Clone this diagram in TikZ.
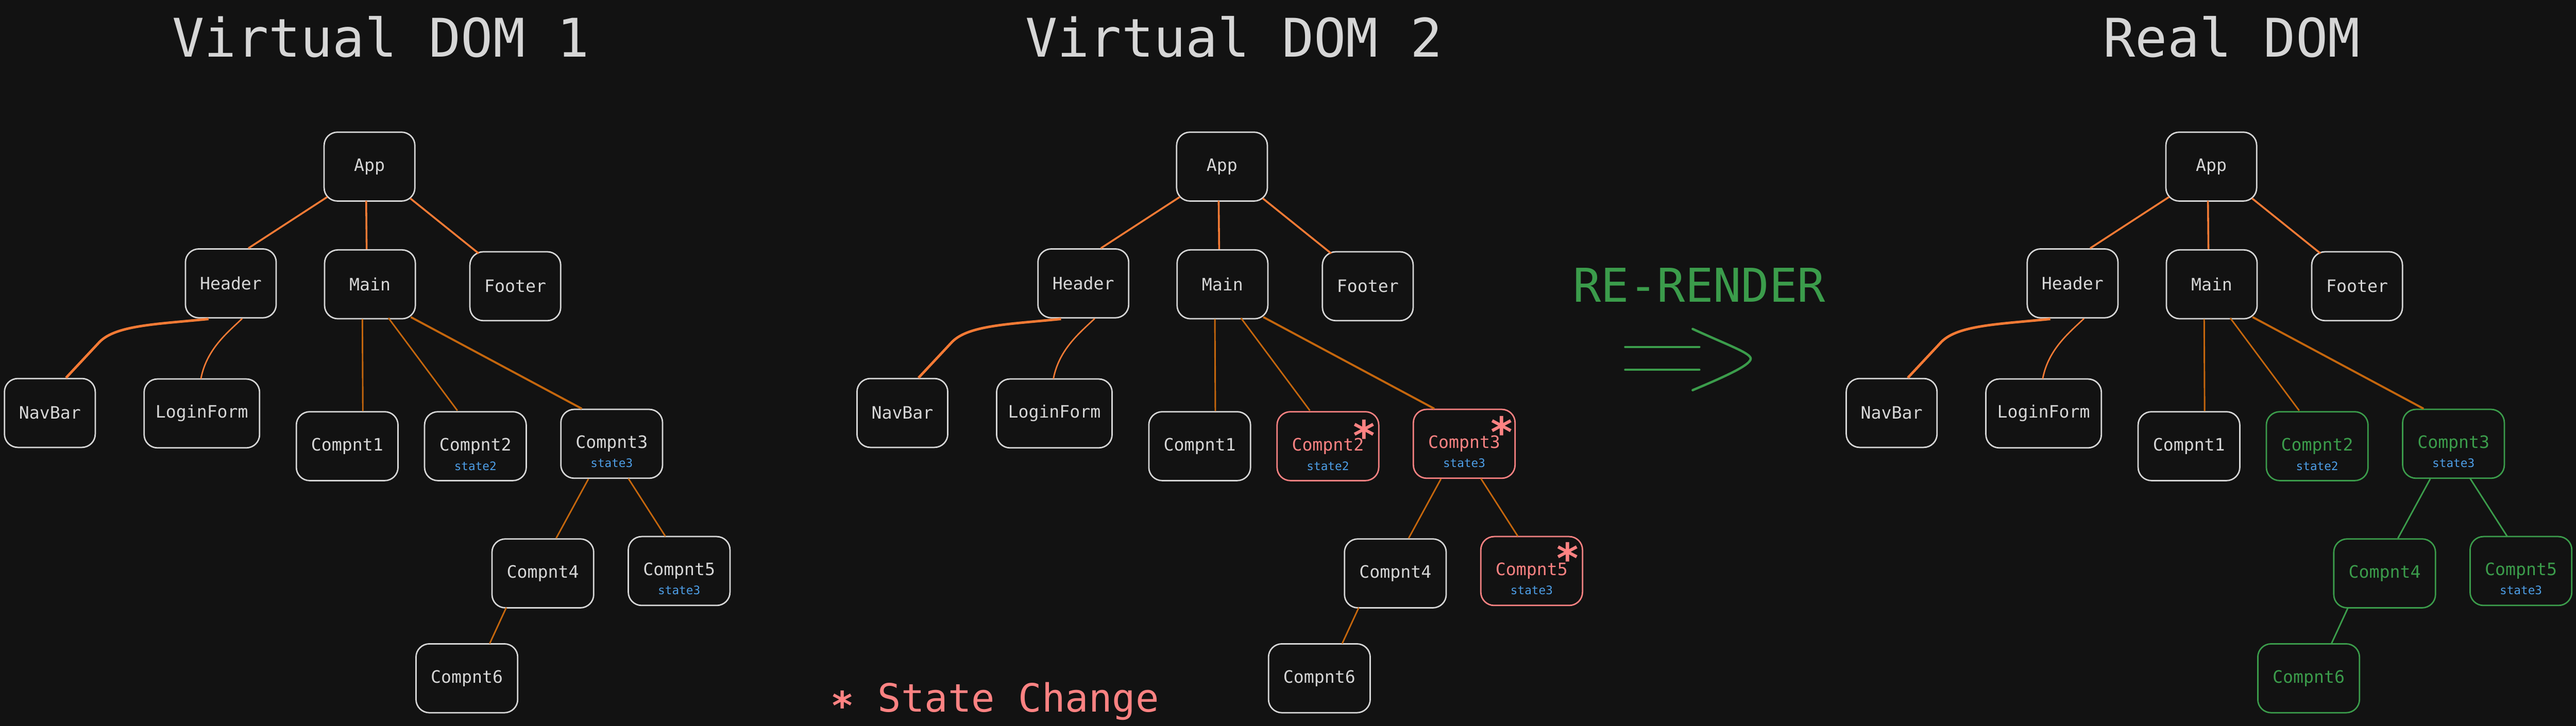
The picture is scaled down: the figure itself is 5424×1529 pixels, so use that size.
\documentclass[tikz,border=0pt]{standalone}
\usepackage{fontspec}
\setmainfont{DejaVu Sans Mono}
\usetikzlibrary{calc}
\definecolor{bg}{HTML}{121212}
\definecolor{fg}{HTML}{D6D6D6}
\definecolor{orA}{HTML}{F57A35}
\definecolor{orB}{HTML}{C4660D}
\definecolor{salm}{HTML}{FF8282}
\definecolor{grn}{HTML}{3B9C4B}
\definecolor{blu}{HTML}{4D9EE6}
\tikzset{
  nbox/.style={draw=fg, text=fg, line width=0.85pt, rounded corners=0.28cm,
    minimum width=1.91cm, minimum height=1.45cm, inner sep=0pt,
    font=\fontsize{10.24pt}{12pt}\selectfont},
  cbox/.style={minimum width=2.14cm},
  chg/.style={draw=salm, text=salm},
  rnd/.style={draw=grn, text=grn},
  stlbl/.style={text=blu, inner sep=0pt, font=\fontsize{7pt}{8pt}\selectfont},
  eA/.style={draw=orA, line width=1.1pt},
  eB/.style={line width=0.9pt},
  ttl/.style={text=fg, inner sep=0pt, font=\fontsize{31.9pt}{36pt}\selectfont},
  astr/.style={text=salm, inner sep=0pt, font=\bfseries\fontsize{25pt}{26pt}\selectfont}
}
\newcommand\domtree[7]{%
  \node[nbox] (#1app) at (778,351) {App};
  \node[nbox] (#1hdr) at (486,597) {Header};
  \node[nbox] (#1main) at (779,599) {Main};
  \node[nbox] (#1ftr) at (1085,603) {Footer};
  \node[nbox] (#1nav) at (105,870) {NavBar};
  \node[nbox,minimum width=2.43cm] (#1log) at (425,871) {LoginForm};
  \node[nbox,cbox] (#1c1) at (731,940) {Compnt1};
  \node[nbox,cbox,#2] (#1c2) at (1001,940) {Compnt2};
  \node[nbox,cbox,#3] (#1c3) at (1288,935) {Compnt3};
  \node[nbox,cbox,#4] (#1c4) at (1143,1208) {Compnt4};
  \node[nbox,cbox,#5] (#1c5) at (1430,1203) {Compnt5};
  \node[nbox,cbox,#6] (#1c6) at (983,1429) {Compnt6};
  \node[stlbl] (#1s2) at ($(#1c2.center)+(0,42)$) {state2};
  \node[stlbl] (#1s3) at ($(#1c3.center)+(0,40)$) {state3};
  \node[stlbl] (#1s5) at ($(#1c5.center)+(0,40)$) {state3};
  \draw[eA] ($(#1app.south)+(-89,-10)$) -- ($(#1hdr.north)+(37,0)$);
  \draw[eA] ($(#1app.south)+(-7,-2)$) -- ($(#1main.north)+(-7,0)$);
  \draw[eA] ($(#1app.south)+(86,-7)$) -- ($(#1ftr.north)+(-77,5)$);
  \draw[eA, line width=1.5pt] ($(#1hdr.south)+(-47,1)$) .. controls (330,683) and (245,685) .. (210,720) -- ($(#1nav.north)+(34,0)$);
  \draw[eA, line width=0.85pt] ($(#1hdr.south)+(24,0)$) .. controls (480,700) and (435,735) .. ($(#1log.north)+(-2,1)$);
  \draw[eB, draw=orB] ($(#1main.south)+(-16,-1)$) -- ($(#1c1.north)+(33,0)$);
  \draw[eB, draw=orB] ($(#1main.south)+(39,-3)$) -- ($(#1c2.north)+(-38,-1)$);
  \draw[eB, draw=orB, line width=1.2pt] ($(#1main.south)+(86,-5)$) -- ($(#1c3.north)+(-63,0)$);
  \draw[eB, draw=#7] ($(#1c3.south)+(-49,0)$) -- ($(#1c4.north)+(28,0)$);
  \draw[eB, draw=#7] ($(#1c3.south)+(35,-1)$) -- ($(#1c5.north)+(-29,1)$);
  \draw[eB, draw=#7] ($(#1c4.south)+(-77,-2)$) -- ($(#1c6.north)+(48,1)$);
}
\begin{document}
\begin{tikzpicture}[x=0.01cm,y=-0.01cm]
\fill[bg] (0,0) rectangle (5424,1529);
\useasboundingbox (0,0) rectangle (5424,1529);
% titles
\node[ttl, anchor=base] (t1) at (802,120) {Virtual DOM 1};
\node[ttl, anchor=base] (t2) at (2598,120) {Virtual DOM 2};
\node[ttl, anchor=base] (t3) at (4699,120) {Real DOM};
% trees
\domtree{a}{}{}{}{}{}{orB}
\begin{scope}[shift={(1795,0)}]
  \domtree{b}{chg}{chg}{}{chg}{}{orB}
  \node[astr, anchor=base] (bx2) at ($(bc2.center)+(76,10)$) {*};
  \node[astr, anchor=base] (bx3) at ($(bc3.center)+(79,7)$) {*};
  \node[astr, anchor=base] (bx5) at ($(bc5.center)+(76,5)$) {*};
\end{scope}
\begin{scope}[shift={(3878,0)}]
  \domtree{c}{rnd}{rnd}{rnd}{rnd}{rnd}{grn}
\end{scope}
% legend
\node[anchor=base west, inner sep=0pt, text=salm, font=\fontsize{23.3pt}{26pt}\selectfont] (legend) at (1749,1500) {\raisebox{-0.2em}{\bfseries *} State Change};
% re-render
\node[anchor=base, inner sep=0pt, text=grn, font=\fontsize{27.9pt}{30pt}\selectfont] (rr) at (3578,636) {RE-RENDER};
\coordinate (ar1) at (3422,731);
\coordinate (ar2) at (3578,731);
\coordinate (ar3) at (3422,779);
\coordinate (ar4) at (3578,779);
\coordinate (arA) at (3564,693);
\coordinate (arT) at (3686,757);
\coordinate (arB) at (3564,822);
\draw[grn, line width=1.4pt, line cap=round] (ar1) -- (ar2);
\draw[grn, line width=1.4pt, line cap=round] (ar3) -- (ar4);
\draw[grn, line width=1.4pt, line cap=round] (arA) .. controls (3640,728) and (3690,745) .. (arT) .. controls (3682,770) and (3640,790) .. (arB);
\end{tikzpicture}
\end{document}
